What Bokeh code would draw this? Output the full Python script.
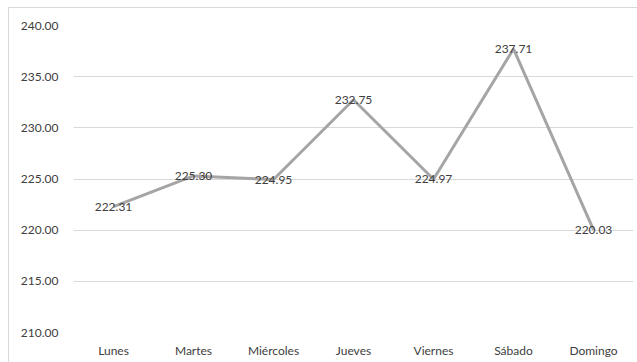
from bokeh.plotting import figure
from bokeh.models import ColumnDataSource, FixedTicker, NumeralTickFormatter, Range1d
from bokeh.core.properties import value
from bokeh.embed import file_html
from bokeh.resources import INLINE

dias = ["Lunes", "Martes", "Miércoles", "Jueves", "Viernes", "Sábado", "Domingo"]
valores = [222.31, 225.30, 224.95, 232.75, 224.97, 237.71, 220.03]
y_ticks = [210, 215, 220, 225, 230, 235, 240]

etiquetas = ["%.2f" % v for v in valores]
src = ColumnDataSource(dict(x=dias, y=valores, t=etiquetas))

FONT = "Lato"
TXT = "#404040"

p = figure(x_range=dias, y_range=Range1d(210, 240), width=629, height=355,
           output_backend="svg", toolbar_location=None,
           min_border_left=64, min_border_right=5, min_border_top=17, min_border_bottom=31,
           margin=(7, 0, 0, 8),
           styles={"border-left": "1px solid #d9d9d9", "border-top": "1px solid #d9d9d9"})
p.outline_line_color = None
p.background_fill_color = "white"
p.border_fill_color = "white"

p.line(x="x", y="y", source=src, line_color="#a5a5a5", line_width=3)
p.text(x="x", y="y", text="t", source=src, text_align="center", text_baseline="middle",
       text_font=value(FONT), text_font_size="12px", text_color=TXT)

p.yaxis.ticker = FixedTicker(ticks=y_ticks)
p.yaxis.formatter = NumeralTickFormatter(format="0.00")
for ax in (p.xaxis[0], p.yaxis[0]):
    ax.axis_line_color = None
    ax.major_tick_line_color = None
    ax.minor_tick_line_color = None
    ax.major_tick_out = 0
    ax.major_tick_in = 0
    ax.minor_tick_out = 0
    ax.major_label_text_font = FONT
    ax.major_label_text_font_size = "12px"
    ax.major_label_text_color = TXT
p.yaxis.major_label_standoff = 15
p.xaxis.major_label_standoff = 10

p.xgrid.grid_line_color = None
p.ygrid.grid_line_color = "#d9d9d9"
p.ygrid.grid_line_width = 1

open("out.html", "w").write(file_html(p, INLINE))
